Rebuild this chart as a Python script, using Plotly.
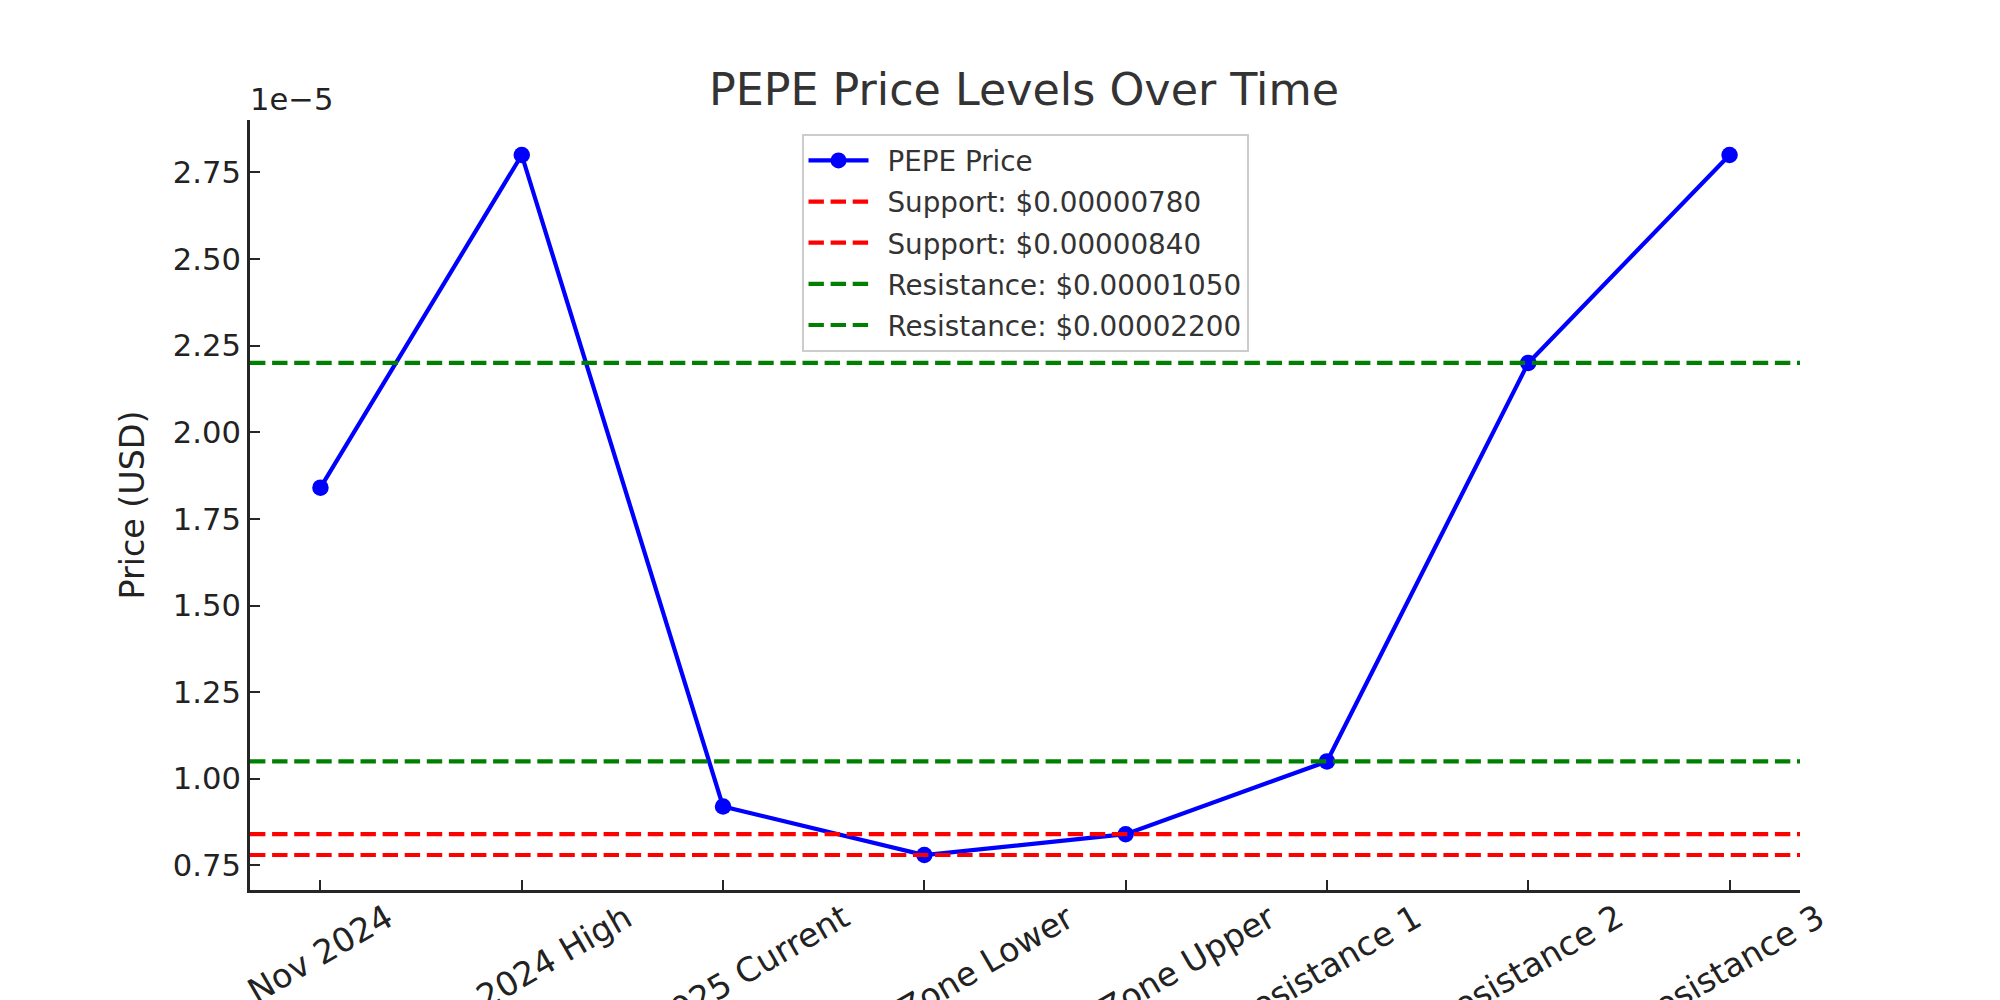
import plotly.graph_objects as go

# Data
categories = ["Nov 2024", "Dec 2024 High", "Jan 2025 Current", "Support Zone Lower",
              "Support Zone Upper", "Resistance 1", "Resistance 2", "Resistance 3"]
prices = [1.84e-5, 2.80e-5, 0.92e-5, 0.78e-5, 0.84e-5, 1.05e-5, 2.20e-5, 2.80e-5]

support_levels = [0.00000780, 0.00000840]
resistance_levels = [0.00001050, 0.00002200]

y_tick_vals = [0.75e-5, 1.00e-5, 1.25e-5, 1.50e-5, 1.75e-5, 2.00e-5, 2.25e-5, 2.50e-5, 2.75e-5]
y_tick_text = ["0.75", "1.00", "1.25", "1.50", "1.75", "2.00", "2.25", "2.50", "2.75"]

FONT = "DejaVu Sans"
DASH = "15.4px,6.7px"
GAP = "\u2002"  # small gap between legend handle and label

fig = go.Figure()

fig.add_trace(go.Scatter(
    x=categories, y=prices, mode="lines+markers", name=GAP + "PEPE Price",
    line=dict(color="#0000ff", width=4.2),
    marker=dict(color="#0000ff", size=16.5),
    legendgroup="a",
))

# horizontal support / resistance lines spanning the whole axes
levels = [(v, "Support", "#ff0000") for v in support_levels] + \
         [(v, "Resistance", "#008000") for v in resistance_levels]
for i, (v, kind, col) in enumerate(levels):
    fig.add_shape(
        type="line", xref="paper", x0=0, x1=1, yref="y", y0=v, y1=v,
        line=dict(color=col, width=4.2, dash=DASH),
        showlegend=True, name=f"{GAP}{kind}: ${v:.8f}", legendgroup=f"l{i}",
    )

# rotated x tick labels, centred under each tick like matplotlib
for c in categories:
    fig.add_annotation(
        x=c, xref="x", y=0, yref="paper", yanchor="top", xanchor="center",
        yshift=-4, text=c, textangle=-30, showarrow=False,
        font=dict(family=FONT, size=33.3, color="#222222"),
    )

# scientific offset text
fig.add_annotation(
    x=0, xref="paper", y=1.026, yref="paper", xanchor="left", yanchor="middle",
    text="1e\u22125", showarrow=False, xshift=-2,
    font=dict(family=FONT, size=30.6, color="#222222"),
)

# page body adds an 8px margin, so the figure is 8px smaller than the window
fig.update_layout(
    width=1992, height=992,
    margin=dict(l=242, r=200, t=112, b=110),
    paper_bgcolor="white", plot_bgcolor="white",
    font=dict(family=FONT, color="#333333"),
    title=dict(text="PEPE Price Levels Over Time", x=0.510, xanchor="center",
               y=0.918, yanchor="middle", yref="container",
               font=dict(family=FONT, size=44.4, color="#333333")),
    legend=dict(x=0.5, xanchor="center", y=0.982, yanchor="top",
                bgcolor="rgba(255,255,255,0.8)", bordercolor="#cccccc", borderwidth=2,
                font=dict(family=FONT, size=27.8, color="#333333"),
                tracegroupgap=2, itemwidth=60),
    showlegend=True,
)

fig.update_xaxes(
    type="category", range=[-0.35, 7.35], showticklabels=False,
    showline=True, linecolor="#262626", linewidth=3, mirror=False,
    ticks="inside", ticklen=10, tickwidth=2.2, tickcolor="#262626",
    showgrid=False, zeroline=False, automargin=False,
)
fig.update_yaxes(
    range=[0.679e-5, 2.901e-5], tickvals=y_tick_vals, ticktext=y_tick_text,
    showline=True, linecolor="#262626", linewidth=3, mirror=False,
    ticks="inside", ticklen=10, tickwidth=2.2, tickcolor="#262626",
    tickfont=dict(family=FONT, size=30.6, color="#222222"),
    title=dict(text="Price (USD)", standoff=19, font=dict(family=FONT, size=33.3, color="#222222")),
    showgrid=False, zeroline=False, automargin=False,
)

fig.write_html("out.html")
